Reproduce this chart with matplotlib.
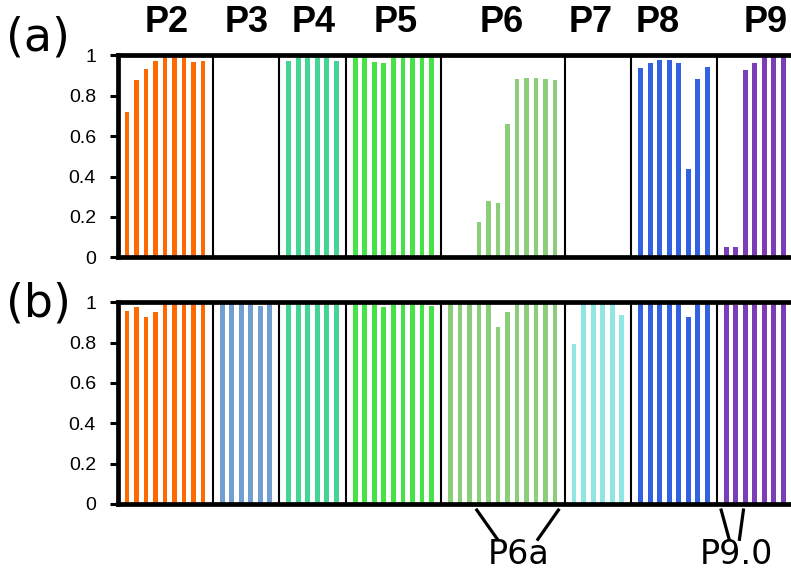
import numpy as np
import matplotlib.pyplot as plt
from matplotlib.transforms import blended_transform_factory

# group names, bar counts and colours
groups = ["P2", "P3", "P4", "P5", "P6", "P7", "P8", "P9"]
bar_counts = [9, 6, 6, 9, 12, 6, 8, 7]
colors = ["#FF6A00", "#729FD2", "#44D494", "#46E346",
          "#8BCD78", "#90E6E2", "#3262E0", "#7B3DB8"]

# panel (a) values per group
a_P2 = [0.72, 0.88, 0.93, 0.97, 1.0, 1.0, 1.0, 0.965, 0.97]
a_P3 = [0, 0, 0, 0, 0, 0]
a_P4 = [0.97, 1.0, 1.0, 1.0, 1.0, 0.97]
a_P5 = [1.0, 1.0, 0.968, 0.96, 1.0, 1.0, 1.0, 1.0, 1.0]
a_P6 = [0, 0, 0, 0.173, 0.277, 0.269, 0.661, 0.881, 0.889, 0.889, 0.881, 0.876]
a_P7 = [0, 0, 0, 0, 0, 0]
a_P8 = [0.939, 0.962, 0.975, 0.975, 0.96, 0.439, 0.884, 0.944]
a_P9 = [0.05, 0.05, 0.929, 0.96, 1.0, 1.0, 1.0]

# panel (b) values per group
b_P2 = [0.958, 0.978, 0.927, 0.95, 1.0, 1.0, 1.0, 1.0, 1.0]
b_P3 = [1.0, 1.0, 1.0, 1.0, 0.982, 1.0]
b_P4 = [1.0, 1.0, 1.0, 1.0, 1.0, 1.0]
b_P5 = [1.0, 1.0, 1.0, 0.975, 1.0, 1.0, 1.0, 1.0, 0.982]
b_P6 = [0.99, 1.0, 1.0, 1.0, 1.0, 0.878, 0.954, 1.0, 1.0, 1.0, 1.0, 1.0]
b_P7 = [0.793, 1.0, 1.0, 1.0, 1.0, 0.935]
b_P8 = [1.0, 1.0, 1.0, 1.0, 1.0, 0.927, 1.0, 1.0]
b_P9 = [1.0, 0.985, 1.0, 1.0, 1.0, 1.0, 1.0]

panel_a = [a_P2, a_P3, a_P4, a_P5, a_P6, a_P7, a_P8, a_P9]
panel_b = [b_P2, b_P3, b_P4, b_P5, b_P6, b_P7, b_P8, b_P9]

# where the group titles sit (bar index units)
label_x = [4.15, 12.6, 19.6, 28.2, 39.4, 48.7, 55.8, 67.1]

yticks = [0, 0.2, 0.4, 0.6, 0.8, 1.0]
ytick_labels = ["0", "0.2", "0.4", "0.6", "0.8", "1"]

W, H = 791, 573
fig = plt.figure(figsize=(W / 100, H / 100), dpi=100)
left = 117.5 / W
ax_a = fig.add_axes([left, 1 - 257.3 / H, 1 - left, 202 / H])
ax_b = fig.add_axes([left, 1 - 504 / H, 1 - left, 201.7 / H])


def draw_panel(ax, values):
    start = 0
    for n, vals, col in zip(bar_counts, values, colors):
        x = start + np.arange(n)
        ax.bar(x, vals, width=0.5, color=col, zorder=1)
        if start + n < 69:
            ax.axvline(start + n, color="black", lw=1.5, zorder=2)
        start += n + 1
    ax.set_xlim(-1, 69.8)
    ax.set_ylim(0, 1)
    ax.set_xticks([])
    ax.set_yticks(yticks)
    ax.set_yticklabels(ytick_labels, family="Liberation Sans", fontsize=14)
    ax.tick_params(axis="y", length=5.5, width=2.2, pad=10)
    for s in ["top", "bottom", "left"]:
        ax.spines[s].set_linewidth(3.4)
        ax.spines[s].set_zorder(3)
    ax.spines["right"].set_visible(False)


draw_panel(ax_a, panel_a)
draw_panel(ax_b, panel_b)

# group titles over panel (a)
trans = blended_transform_factory(ax_a.transData, fig.transFigure)
for name, xl in zip(groups, label_x):
    ax_a.text(xl, 1 - 22 / H, name, transform=trans, ha="center", va="center",
              family="Liberation Sans", fontweight="bold", fontsize=26)

fig.text(6 / W, 1 - 38 / H, "(a)", fontsize=33, ha="left", va="center")
fig.text(6 / W, 1 - 304 / H, "(b)", fontsize=33, ha="left", va="center")

# subgroup markers under panel (b)
tb = blended_transform_factory(ax_b.transData, ax_b.transAxes)
marks = [((36.77, 38.94), (-0.03, -0.175)), ((45.35, 43.19), (-0.03, -0.175)),
         ((62.46, 63.3), (-0.03, -0.175)), ((64.8, 64.38), (-0.03, -0.175))]
for xs, ys in marks:
    ax_b.plot(xs, ys, color="black", lw=2.3, transform=tb, clip_on=False)
ax_b.text(41.2, -0.25, "P6a", transform=tb, ha="center", va="center", fontsize=24)
ax_b.text(64.1, -0.25, "P9.0", transform=tb, ha="center", va="center", fontsize=24)

fig.savefig("out.png", dpi=100)
